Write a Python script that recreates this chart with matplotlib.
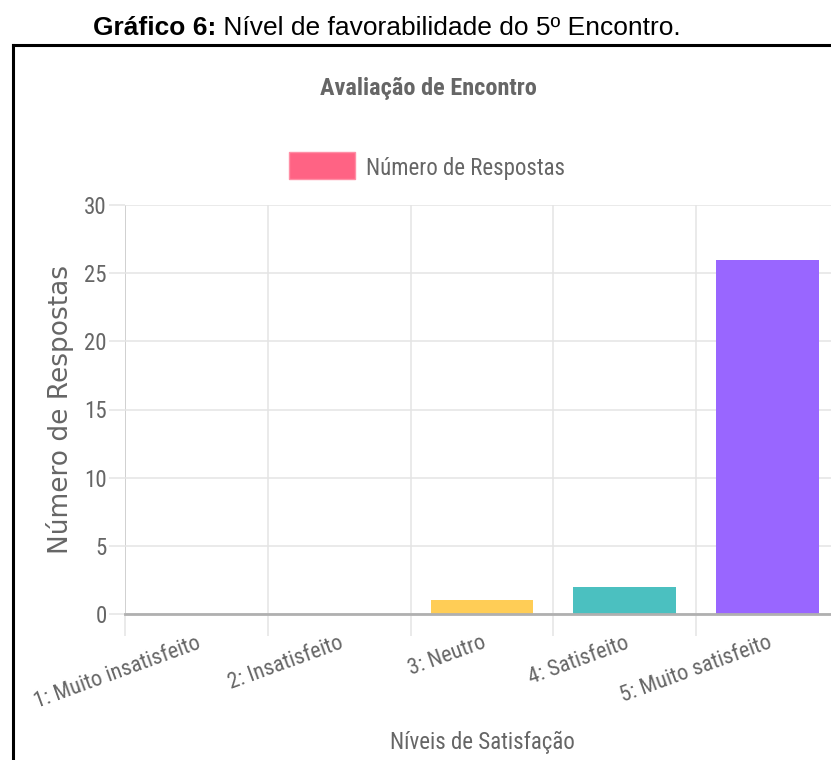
import matplotlib
matplotlib.use('Agg')
import matplotlib.pyplot as plt
from matplotlib.lines import Line2D
from matplotlib.patches import Rectangle

# Dados do gráfico
categorias = ['1: Muito insatisfeito', '2: Insatisfeito', '3: Neutro',
              '4: Satisfeito', '5: Muito satisfeito']
respostas = [0, 0, 1, 2, 26]
cores = ['#FF6384', '#FF9F40', '#FFCD56', '#4BC0C0', '#9966FF']
y_ticks = [0, 5, 10, 15, 20, 25, 30]

W, H = 831, 760
cinza = '#666666'
grade = '#e4e4e4'
fonte = 'Roboto Condensed'

fig = plt.figure(figsize=(W / 100, H / 100), dpi=100)

# Área do gráfico (a última categoria passa da borda direita, como na imagem)
x0, x1, y_top, y_bot = 125, 839, 205, 614
ax = fig.add_axes([x0 / W, 1 - y_bot / H, (x1 - x0) / W, (y_bot - y_top) / H])

pos = list(range(len(categorias)))
ax.bar(pos, respostas, width=0.72, color=cores, linewidth=0, zorder=3)

ax.set_xlim(-0.5, len(categorias) - 0.5)
ax.set_ylim(0, 30)

# Grade
ax.set_yticks(y_ticks)
ax.set_yticklabels([str(v) for v in y_ticks], family=fonte, fontsize=16.5, color=cinza)
ax.tick_params(axis='y', length=11.5, width=1.1, color=grade, pad=1.5)
ax.grid(axis='y', color=grade, linewidth=1.1, zorder=0)

ax.set_xticks(pos)
ax.set_xticklabels(categorias, family=fonte, fontsize=16, color=cinza,
                   rotation=20, ha='right', va='top', rotation_mode='anchor')
ax.tick_params(axis='x', which='major', length=0, pad=13.5)
ax.set_xticks([p - 0.5 for p in pos], minor=True)
ax.tick_params(axis='x', which='minor', length=16, width=1.1, color=grade)
ax.grid(axis='x', which='minor', color=grade, linewidth=1.1, zorder=0)
primeiro = ax.xaxis.get_minor_ticks()[0]
primeiro.tick1line.set_color('#c4c4c4')
primeiro.gridline.set_color('#c4c4c4')

for lado in ['top', 'right', 'left']:
    ax.spines[lado].set_visible(False)
ax.spines['bottom'].set_color('#b0b0b0')
ax.spines['bottom'].set_linewidth(2.0)
ax.spines['bottom'].set_zorder(4)

# Título e legenda do gráfico
fig.text(428.5 / W, 1 - 95 / H, 'Avaliação de Encontro', ha='center', va='baseline',
         family=fonte, fontweight='bold', fontsize=17.5, color=cinza)
fig.add_artist(Rectangle((289 / W, 1 - 179 / H), 66 / W, 27 / H,
                         transform=fig.transFigure, facecolor='#FF6384',
                         edgecolor='#ff8fa6', linewidth=1))
fig.text(366 / W, 1 - 175 / H, 'Número de Respostas', ha='left', va='baseline',
         family=fonte, fontsize=16.5, color=cinza)

# Rótulos dos eixos
fig.text(482.5 / W, 1 - 749 / H, 'Níveis de Satisfação', ha='center', va='baseline',
         family=fonte, fontsize=16.5, color=cinza)
fig.text(60 / W, 1 - 410 / H, 'Número de Respostas', ha='center', va='center',
         rotation=90, family='DejaVu Sans', fontsize=19, color=cinza)

# Legenda da figura (título do documento)
t1 = fig.text(93 / W, 1 - 35 / H, 'Gráfico 6:', ha='left', va='baseline',
              family='Liberation Sans', fontweight='bold', fontsize=19, color='black')
fig.canvas.draw()
bb = t1.get_window_extent()
fig.text(bb.x1 / W, 1 - 35 / H, ' Nível de favorabilidade do 5º Encontro.', ha='left',
         va='baseline', family='Liberation Sans', fontsize=19, color='black')

# Moldura
fig.add_artist(Line2D([12.5 / W, 12.5 / W], [0, 1 - 44.5 / H], transform=fig.transFigure,
                      color='black', linewidth=2.2, solid_capstyle='projecting'))
fig.add_artist(Line2D([12.5 / W, 1], [1 - 44.5 / H, 1 - 44.5 / H], transform=fig.transFigure,
                      color='black', linewidth=2.2, solid_capstyle='projecting'))

fig.savefig('out.png', dpi=100)
